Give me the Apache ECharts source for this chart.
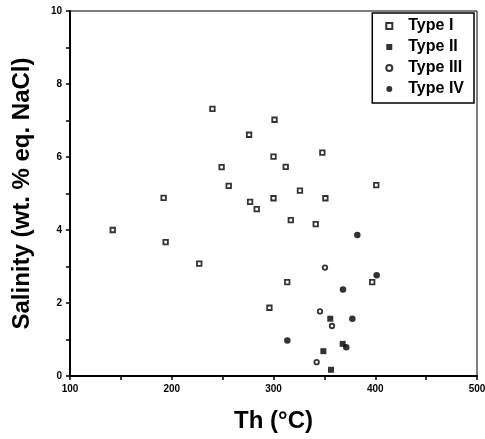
<!DOCTYPE html>
<html><head><meta charset="utf-8">
<script src="https://cdn.jsdelivr.net/npm/echarts@6/dist/echarts.min.js"></script>
<style>html,body{margin:0;padding:0;background:#fff}#c{width:485px;height:439px}</style>
</head><body><div id="c"></div>
<script>
const xTicks = [100, 200, 300, 400, 500];
const yTicks = [0, 2, 4, 6, 8, 10];
const typeI = [[142,4.0],[192,4.88],[194,3.67],[227,3.08],[240,7.32],[249,5.72],[256,5.21],[276,6.61],[301,7.02],[300,6.01],[277,4.77],[283.5,4.57],[300,4.87],[296,1.87],[348,6.12],[312,5.73],[326,5.08],[401,5.23],[351,4.87],[317,4.27],[341.5,4.16],[313.5,2.57],[397,2.57]];
const typeII = [[355.8,1.57],[368,0.88],[349,0.68],[356.5,0.17]];
const typeIII = [[350.6,2.97],[345.7,1.77],[357.5,1.37],[342.4,0.38]];
const typeIV = [[382.4,3.86],[401.4,2.76],[368.3,2.37],[377.5,1.57],[313.6,0.97],[371.5,0.79]];
const names = ['Type I','Type II','Type III','Type IV'];

const font = 'Liberation Sans, Arial, Helvetica, sans-serif';
const chart = echarts.init(document.getElementById('c'));
chart.setOption({
  animation: false,
  backgroundColor: '#fff',
  grid: {left: 70, right: 8, top: 11, bottom: 63, show: true, borderColor: '#000', borderWidth: 1,
         containLabel: false, outerBoundsMode: 'none'},
  legend: {
    orient: 'vertical', right: 11, top: 13,
    data: names,
    borderColor: '#000', borderWidth: 1.5,
    padding: [5, 10, 6, 13], itemGap: 5,
    itemWidth: 6, itemHeight: 6,
    textStyle: {fontFamily: font, fontWeight: 'bold', fontSize: 16, color: '#000', padding: [0,0,0,11]}
  },
  xAxis: {
    type: 'value', min: xTicks[0], max: xTicks[xTicks.length-1], interval: 100,
    name: 'Th (°C)', nameLocation: 'middle', nameGap: 33,
    nameTextStyle: {fontFamily: font, fontWeight: 'bold', fontSize: 24, color: '#000'},
    axisLine: {show: true, lineStyle: {color: '#000', width: 2}},
    axisTick: {show: true, inside: false, length: 4, lineStyle: {color: '#000', width: 1.5}},
    minorTick: {show: true, splitNumber: 2, length: 4, lineStyle: {color: '#000', width: 1.5}},
    axisLabel: {fontFamily: font, fontWeight: 'bold', fontSize: 10, color: '#000', margin: 8},
    splitLine: {show: false}
  },
  yAxis: {
    type: 'value', min: yTicks[0], max: yTicks[yTicks.length-1], interval: 2,
    name: 'Salinity (wt. % eq. NaCl)', nameLocation: 'middle', nameGap: 36,
    nameTextStyle: {fontFamily: font, fontWeight: 'bold', fontSize: 24, color: '#000'},
    axisLine: {show: true, lineStyle: {color: '#000', width: 2}},
    axisTick: {show: true, inside: false, length: 4, lineStyle: {color: '#000', width: 1.5}},
    minorTick: {show: true, splitNumber: 2, length: 4, lineStyle: {color: '#000', width: 1.5}},
    axisLabel: {fontFamily: font, fontWeight: 'bold', fontSize: 10, color: '#000', margin: 8},
    splitLine: {show: false}
  },
  series: [
    {name: names[0], type: 'scatter', data: typeI, symbol: 'rect', symbolSize: 4.5,
     itemStyle: {color: '#fff', borderColor: '#000', borderWidth: 1.8}},
    {name: names[1], type: 'scatter', data: typeII, symbol: 'rect', symbolSize: 6,
     itemStyle: {color: '#000'}},
    {name: names[2], type: 'scatter', data: typeIII, symbol: 'circle', symbolSize: 4.5,
     itemStyle: {color: '#fff', borderColor: '#000', borderWidth: 1.8}},
    {name: names[3], type: 'scatter', data: typeIV, symbol: 'circle', symbolSize: 6.5,
     itemStyle: {color: '#000'}}
  ]
});
</script></body></html>
